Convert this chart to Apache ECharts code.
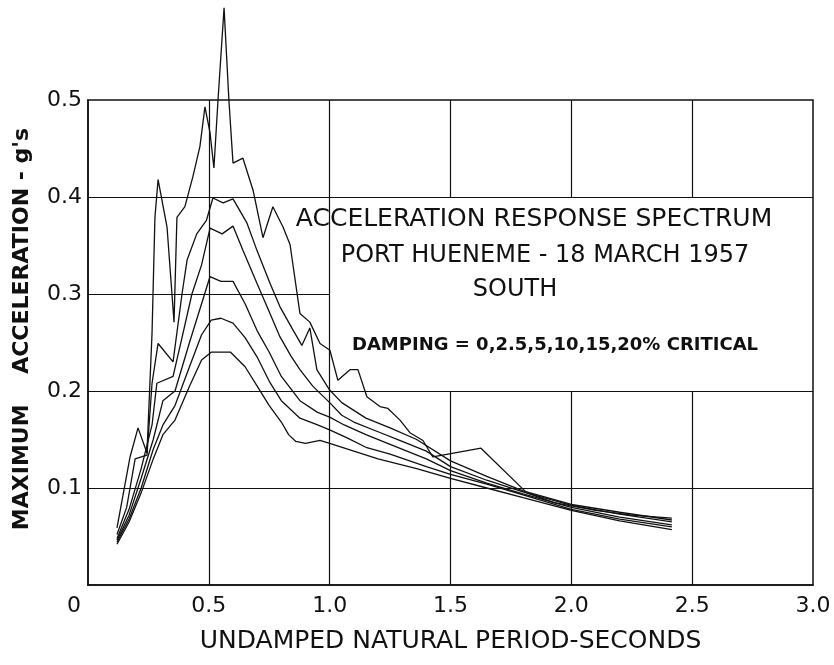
<!DOCTYPE html>
<html>
<head>
<meta charset="utf-8">
<script src="https://cdn.jsdelivr.net/npm/echarts@6/dist/echarts.min.js"></script>
<style>
html,body{margin:0;padding:0;background:#fff;}
#chart{width:834px;height:665px;}
</style>
</head>
<body>
<div id="chart"></div>
<script>
// Damping curves: [period (s), max acceleration (g)]
const damp0 = [[0.12,0.059],[0.174,0.132],[0.207,0.162],[0.244,0.136],[0.265,0.26],[0.277,0.379],[0.29,0.418],[0.327,0.369],[0.356,0.271],[0.368,0.379],[0.401,0.39],[0.434,0.421],[0.463,0.452],[0.484,0.493],[0.505,0.466],[0.521,0.43],[0.538,0.5],[0.563,0.595],[0.583,0.5],[0.6,0.435],[0.641,0.44],[0.683,0.407],[0.724,0.358],[0.765,0.39],[0.807,0.369],[0.836,0.351],[0.877,0.28],[0.918,0.271],[0.96,0.249],[1.001,0.242],[1.034,0.211],[1.084,0.222],[1.117,0.222],[1.154,0.194],[1.208,0.184],[1.241,0.182],[1.291,0.17],[1.332,0.157],[1.386,0.149],[1.427,0.132],[1.626,0.141],[1.816,0.095],[1.928,0.085],[2.1,0.077],[2.25,0.072],[2.416,0.069]];
const damp25 = [[0.12,0.052],[0.16,0.08],[0.195,0.13],[0.244,0.134],[0.265,0.208],[0.29,0.249],[0.352,0.23],[0.389,0.3],[0.41,0.335],[0.45,0.362],[0.49,0.376],[0.517,0.399],[0.559,0.394],[0.6,0.398],[0.658,0.373],[0.699,0.345],[0.753,0.311],[0.794,0.287],[0.848,0.263],[0.885,0.247],[0.918,0.265],[0.947,0.222],[1.0,0.201],[1.05,0.188],[1.15,0.172],[1.25,0.162],[1.36,0.15],[1.5,0.128],[1.65,0.112],[1.8,0.097],[2.0,0.083],[2.2,0.075],[2.416,0.067]];
const damp5 = [[0.12,0.048],[0.17,0.078],[0.22,0.12],[0.265,0.165],[0.285,0.208],[0.352,0.215],[0.389,0.255],[0.43,0.3],[0.47,0.33],[0.505,0.368],[0.555,0.362],[0.6,0.37],[0.641,0.345],[0.699,0.311],[0.753,0.28],[0.794,0.256],[0.84,0.236],[0.877,0.222],[0.93,0.205],[1.0,0.188],[1.05,0.175],[1.1,0.168],[1.2,0.158],[1.3,0.148],[1.4,0.138],[1.5,0.122],[1.65,0.108],[1.8,0.096],[2.0,0.082],[2.2,0.073],[2.416,0.065]];
const damp10 = [[0.12,0.046],[0.17,0.072],[0.22,0.11],[0.27,0.15],[0.31,0.19],[0.36,0.2],[0.42,0.25],[0.47,0.29],[0.505,0.318],[0.55,0.313],[0.6,0.313],[0.65,0.29],[0.7,0.262],[0.75,0.24],[0.8,0.215],[0.877,0.19],[0.95,0.178],[1.0,0.173],[1.06,0.165],[1.15,0.155],[1.25,0.145],[1.4,0.13],[1.5,0.118],[1.65,0.105],[1.8,0.094],[2.0,0.08],[2.2,0.07],[2.416,0.062]];
const damp15 = [[0.12,0.044],[0.17,0.068],[0.22,0.1],[0.27,0.14],[0.31,0.165],[0.36,0.185],[0.42,0.225],[0.47,0.258],[0.51,0.273],[0.55,0.275],[0.6,0.27],[0.65,0.255],[0.7,0.235],[0.75,0.21],[0.8,0.19],[0.877,0.172],[0.95,0.165],[1.0,0.16],[1.07,0.152],[1.15,0.142],[1.25,0.135],[1.4,0.122],[1.5,0.114],[1.65,0.104],[1.8,0.093],[2.0,0.078],[2.2,0.068],[2.416,0.06]];
const damp20 = [[0.12,0.042],[0.17,0.065],[0.22,0.095],[0.27,0.13],[0.31,0.155],[0.36,0.17],[0.42,0.205],[0.47,0.232],[0.51,0.24],[0.59,0.24],[0.65,0.225],[0.7,0.205],[0.75,0.185],[0.8,0.168],[0.83,0.155],[0.86,0.148],[0.9,0.146],[0.96,0.149],[1.0,0.146],[1.1,0.138],[1.2,0.13],[1.36,0.12],[1.5,0.11],[1.65,0.1],[1.8,0.09],[2.0,0.077],[2.2,0.066],[2.416,0.057]];
const curves = [damp0, damp25, damp5, damp10, damp15, damp20];
const curveNames = ['0%', '2.5%', '5%', '10%', '15%', '20%'];

// Axis ticks
const xTicks = [0, 0.5, 1.0, 1.5, 2.0, 2.5, 3.0];
const yTicks = [0, 0.1, 0.2, 0.3, 0.4, 0.5];

// Grid segments (data units): [x1,y1,x2,y2]
const gridSegments = [
  [0.5,0,0.5,0.5],[1.0,0,1.0,0.5],
  [1.5,0,1.5,0.2],[2.0,0,2.0,0.2],[2.5,0,2.5,0.2],
  [1.5,0.4,1.5,0.5],[2.0,0.4,2.0,0.5],[2.5,0.4,2.5,0.5],
  [0,0.1,3,0.1],[0,0.2,3,0.2],[0,0.3,1.0,0.3],[0,0.4,3,0.4]
];

// Text
const titleLines = ['ACCELERATION RESPONSE SPECTRUM', 'PORT HUENEME - 18 MARCH 1957', 'SOUTH'];
const dampingNote = 'DAMPING = 0,2.5,5,10,15,20% CRITICAL';
const xTitle = 'UNDAMPED NATURAL PERIOD-SECONDS';
const yTitle = "MAXIMUM    ACCELERATION - g's";

const FONT = '"DejaVu Sans", sans-serif';
const chart = echarts.init(document.getElementById('chart'), null, {renderer: 'canvas'});

const series = curves.map((c, i) => ({
  name: curveNames[i],
  type: 'line',
  data: c,
  showSymbol: false,
  clip: false,
  z: 5,
  lineStyle: {color: '#111', width: 1.3},
  silent: true
}));
series.push({
  type: 'lines',
  coordinateSystem: 'cartesian2d',
  silent: true,
  z: 2,
  lineStyle: {color: '#111', width: 1.2, opacity: 1},
  data: gridSegments.map(s => ({coords: [[s[0], s[1]], [s[2], s[3]]]}))
});

chart.setOption({
  animation: false,
  backgroundColor: '#fff',
  grid: {left: 88, top: 100, width: 725, height: 485, show: true, borderColor: '#111', borderWidth: 1.5, backgroundColor: 'transparent'},
  xAxis: {
    type: 'value', min: xTicks[0], max: xTicks[xTicks.length - 1], interval: 0.5,
    axisLine: {show: true, lineStyle: {color: '#111', width: 1.5}},
    axisTick: {show: false},
    splitLine: {show: false},
    axisLabel: {
      margin: 10, color: '#111', fontFamily: FONT, fontSize: 22,
      formatter: v => v === 0 ? '{z|0}' : v.toFixed(1),
      rich: {z: {fontFamily: FONT, fontSize: 22, color: '#111', padding: [0, 28, 0, 0]}}
    },
    name: xTitle, nameLocation: 'middle', nameGap: 44,
    nameTextStyle: {fontFamily: FONT, fontSize: 25, color: '#111'}
  },
  yAxis: {
    type: 'value', min: yTicks[0], max: yTicks[yTicks.length - 1], interval: 0.1,
    axisLine: {show: true, lineStyle: {color: '#111', width: 1.5}},
    axisTick: {show: false},
    splitLine: {show: false},
    axisLabel: {
      margin: 6, color: '#111', fontFamily: FONT, fontSize: 22,
      formatter: v => v === 0 ? '' : v.toFixed(1)
    }
  },
  graphic: [
    {type: 'text', x: 22, y: 329, rotation: Math.PI / 2, silent: true,
     style: {text: yTitle, font: 'bold 22px ' + FONT, fill: '#111', align: 'center', verticalAlign: 'middle', textAlign: 'center', textVerticalAlign: 'middle'}},
    {type: 'text', x: 534, y: 219, silent: true,
     style: {text: titleLines[0], font: '25px ' + FONT, fill: '#111', align: 'center', verticalAlign: 'middle', textAlign: 'center', textVerticalAlign: 'middle'}},
    {type: 'text', x: 545, y: 256, silent: true,
     style: {text: titleLines[1], font: '24px ' + FONT, fill: '#111', align: 'center', verticalAlign: 'middle', textAlign: 'center', textVerticalAlign: 'middle'}},
    {type: 'text', x: 515, y: 290, silent: true,
     style: {text: titleLines[2], font: '24px ' + FONT, fill: '#111', align: 'center', verticalAlign: 'middle', textAlign: 'center', textVerticalAlign: 'middle'}},
    {type: 'text', x: 555, y: 345, silent: true,
     style: {text: dampingNote, font: 'bold 18px ' + FONT, fill: '#111', align: 'center', verticalAlign: 'middle', textAlign: 'center', textVerticalAlign: 'middle'}}
  ],
  series: series
});
</script>
</body>
</html>
